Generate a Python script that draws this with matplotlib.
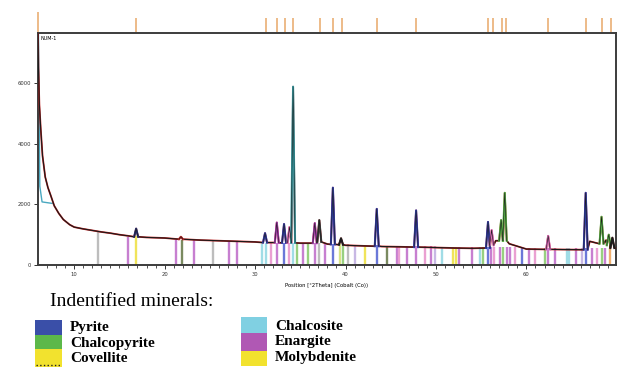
import matplotlib
matplotlib.use("Agg")
import matplotlib.pyplot as plt
from matplotlib.patches import Rectangle
from matplotlib.lines import Line2D
from matplotlib.transforms import blended_transform_factory

# ---- data (2theta in degrees, counts) ----
bg_pos = [6.0, 6.05, 6.15, 6.3, 6.5, 6.8, 7.1, 7.4, 7.8, 8.3, 8.8, 9.5, 10, 11, 12, 13, 14,
          15, 16, 18, 20, 22, 24, 26, 28, 30, 32, 35, 36.9, 38, 40, 42, 44, 46, 48, 50, 52,
          54, 56.6, 58.1, 60, 62, 64, 66, 67.0, 68.8, 69.9]
bg_int = [7650, 6500, 5300, 4500, 3600, 2900, 2550, 2300, 1950, 1700, 1500, 1330, 1250, 1190,
          1140, 1090, 1050, 1000, 960, 910, 890, 850, 820, 800, 780, 760, 740, 720, 850, 690,
          650, 630, 610, 600, 590, 575, 560, 550, 800, 700, 525, 515, 510, 505, 780, 820, 560]

peak_pos = [16.85, 21.8, 31.1, 32.4, 33.2, 33.8, 34.2, 36.6, 37.1, 38.6, 39.5, 43.45, 47.8,
            55.75, 56.15, 57.2, 57.6, 62.4, 66.55, 68.3, 69.1, 69.5]
peak_int = [1200, 930, 1050, 1400, 1350, 1250, 5880, 1380, 1480, 2550, 880, 1850, 1800,
            1420, 1150, 1480, 2380, 960, 2380, 1590, 1000, 900]
peak_base = [930, 850, 740, 735, 730, 730, 730, 720, 760, 680, 670, 620, 590,
             560, 650, 800, 800, 515, 505, 700, 650, 560]
peak_phase = ["navy", "red", "blue", "magenta", "blue", "pink", "teal", "magenta", "grey", "blue",
              "black", "blue", "blue", "blue", "pink", "green", "green", "pink", "blue", "green",
              "green", "black"]

stick_pos = [12.65, 15.97, 16.85, 21.27, 21.93, 23.26, 25.36, 27.13, 28.01, 30.77, 31.22, 31.77,
             32.43, 33.20, 33.76, 34.20, 34.64, 35.30, 35.86, 36.63, 37.07, 37.73, 38.62, 39.39,
             39.72, 40.28, 41.05, 42.15, 43.48, 44.59, 45.69, 45.91, 46.80, 47.79, 48.78, 49.45,
             49.89, 50.66, 51.88, 52.21, 52.54, 53.98, 54.86, 55.19, 55.75, 56.08, 56.41, 57.07,
             57.40, 57.85, 58.18, 58.73, 59.50, 60.28, 60.94, 62.04, 62.38, 63.15, 64.48, 64.70,
             65.47, 66.13, 66.57, 67.24, 67.79, 68.34, 68.67, 69.23]
stick_int = [1100, 920, 940, 840, 840, 810, 800, 760, 760, 720, 720, 720,
             740, 730, 730, 730, 730, 720, 720, 710, 710, 700, 700, 690,
             690, 680, 670, 660, 650, 640, 640, 640, 630, 630, 620, 620,
             620, 610, 610, 610, 610, 600, 600, 600, 600, 600, 600, 590,
             590, 590, 590, 580, 580, 570, 570, 560, 560, 560, 560, 560,
             560, 560, 560, 560, 560, 560, 560, 560]
stick_phase = ["grey", "magenta", "yellow", "magenta", "olive", "magenta", "grey", "magenta",
               "magenta", "cyan", "cyan", "pink", "magenta", "blue", "pink", "cyan", "green",
               "magenta", "green", "magenta", "grey", "magenta", "blue", "ygreen", "green",
               "grey", "lavender", "yellow", "blue", "olive", "magenta", "pink", "magenta",
               "magenta", "pink", "magenta", "lavender", "cyan", "yellow", "yellow", "magenta",
               "magenta", "cyan", "green", "blue", "magenta", "pink", "magenta", "green",
               "magenta", "magenta", "pink", "blue", "magenta", "pink", "green", "magenta",
               "magenta", "cyan", "cyan", "magenta", "lavender", "blue", "magenta", "pink",
               "green", "magenta", "orange"]

marker_pos = [6.0, 16.85, 31.2, 32.4, 33.3, 34.2, 37.2, 38.6, 39.6, 43.5, 47.8, 55.7, 56.3,
              57.3, 57.7, 62.4, 66.6, 68.4, 69.3]

legend_left = ["Pyrite", "Chalcopyrite", "Covellite"]
legend_right = ["Chalcosite", "Enargite", "Molybdenite"]

# ---- colours ----
line_col = {"navy": "#2c3478", "red": "#c03030", "blue": "#3340b0", "magenta": "#b040b8",
            "pink": "#e070c0", "teal": "#3aa8b0", "grey": "#404040", "green": "#58b848",
            "black": "#202020"}
stick_col = {"grey": "#bdbdbd", "magenta": "#c77fd0", "yellow": "#f0e45a", "olive": "#7a8a60",
             "cyan": "#a0dce6", "pink": "#eaa0d2", "blue": "#6a78d8", "green": "#98d080",
             "ygreen": "#d8e488", "lavender": "#c8b8e4", "orange": "#f0b070"}

fig = plt.figure(figsize=(6.21, 3.67), dpi=100)
W, H = 621, 367
ax = fig.add_axes([38 / W, 1 - 265 / H, (616 - 38) / W, (265 - 33) / H])
ax.set_xlim(6.0, 69.9)
ax.set_ylim(0, 7650)

# reference sticks
for p, h, ph in zip(stick_pos, stick_int, stick_phase):
    ax.vlines(p, 0, h, color=stick_col[ph], lw=1.7, zorder=1)

# observed profile: background points outside peak windows + peak triangles
hw = 0.22
pts = [(x, y) for x, y in zip(bg_pos, bg_int)
       if all(abs(x - p) > hw for p in peak_pos)]
for p, h, b in zip(peak_pos, peak_int, peak_base):
    pts += [(p - hw, b), (p, h), (p + hw, b)]
pts.sort()
prof_x = [q[0] for q in pts]
prof_y = [q[1] for q in pts]

ax.plot([6.05, 6.2, 6.45, 7.6], [7600, 2600, 2080, 2030], color="#4aa8c0", lw=1.0, zorder=2)
ax.plot(prof_x, prof_y, color="#c02020", lw=1.3, zorder=3)
ax.plot(prof_x, prof_y, color="#1a1a1a", lw=0.8, zorder=4)

# coloured phase profiles at peaks, thin dark line on top
for p, h, b, ph in zip(peak_pos, peak_int, peak_base, peak_phase):
    ax.plot([p - hw, p, p + hw], [b, h, b], color=line_col[ph], lw=1.5, zorder=5)
    ax.plot([p - hw, p, p + hw], [b, h, b], color="#1a1a1a", lw=0.45, zorder=6)

# peak markers above the frame
trans = blended_transform_factory(ax.transData, ax.transAxes)
for i, p in enumerate(marker_pos):
    top = 1.09 if i == 0 else 1.065
    ax.vlines(p, 1.005, top, color="#e8a868", lw=1.1, transform=trans, clip_on=False)

for s in ax.spines.values():
    s.set_color("#3c3c3c")
    s.set_linewidth(1.4)

ax.set_yticks([0, 2000, 4000, 6000])
ax.set_xticks([10, 20, 30, 40, 50, 60])
ax.set_xticks(range(7, 70), minor=True)
ax.tick_params(axis="both", which="major", labelsize=3.8, length=3, width=0.7,
               colors="#333333", pad=2)
ax.tick_params(axis="x", which="minor", length=2, width=0.6, colors="#333333")
ax.set_xlabel("Position [°2Theta] (Cobalt (Co))", fontsize=3.8, labelpad=4)
ax.text(0.004, 0.985, "NUM-1", transform=ax.transAxes, fontsize=3.5, va="top", ha="left")

# legend block below the chart
def fx(x):
    return x / W

def fy(y):
    return 1 - y / H

fig.text(fx(50), fy(302), "Indentified minerals:", fontsize=14, family="Liberation Serif",
         va="center", ha="left")

left_cols = ["#3a4fa8", "#5cb84a", "#f2e22e"]
right_cols = ["#80d0e2", "#b058b4", "#f2e22e"]
left_rows = [(320, 335), (335, 349), (349, 367)]
right_rows = [(317, 333), (333, 351), (351, 366)]
for (y0, y1), c in zip(left_rows, left_cols):
    fig.add_artist(Rectangle((fx(35), fy(y1)), fx(62) - fx(35), fy(y0) - fy(y1),
                             transform=fig.transFigure, color=c, lw=0))
for (y0, y1), c in zip(right_rows, right_cols):
    fig.add_artist(Rectangle((fx(241), fy(y1)), fx(267) - fx(241), fy(y0) - fy(y1),
                             transform=fig.transFigure, color=c, lw=0))
fig.add_artist(Line2D([fx(36), fx(61)], [fy(365), fy(365)], transform=fig.transFigure,
                      color="#222222", lw=1.0, ls=":"))

for name, y in zip(legend_left, [328, 344, 359]):
    fig.text(fx(70), fy(y), name, fontsize=11, family="Liberation Serif",
             weight="bold", va="center", ha="left")
for name, y in zip(legend_right, [326, 342, 357]):
    fig.text(fx(275), fy(y), name, fontsize=11, family="Liberation Serif",
             weight="bold", va="center", ha="left")

fig.savefig("out.png", dpi=100)
